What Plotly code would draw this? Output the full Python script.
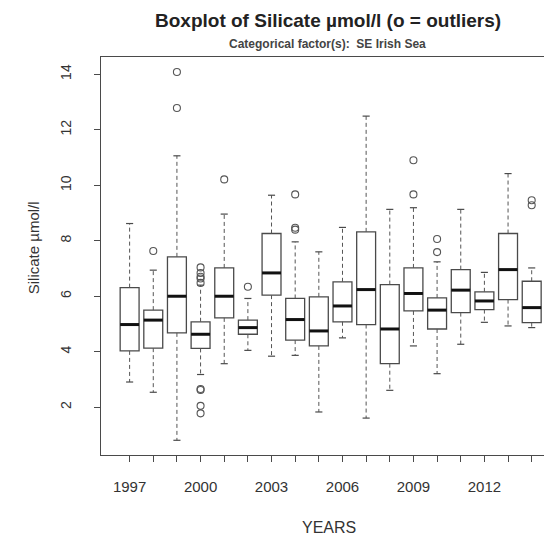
import plotly.graph_objects as go

years = list(range(1997, 2015))
whisker_low = [2.91, 2.54, 0.81, 3.18, 3.57, 4.05, 3.84, 3.87, 1.83, 4.50, 1.61, 2.61, 4.21, 3.21, 4.27, 5.06, 4.93, 4.87]
q1 = [4.03, 4.13, 4.68, 4.12, 5.22, 4.63, 6.04, 4.42, 4.21, 5.08, 4.98, 3.57, 5.47, 4.82, 5.41, 5.52, 5.88, 5.05]
median = [4.98, 5.14, 6.00, 4.63, 6.00, 4.87, 6.84, 5.16, 4.75, 5.65, 6.24, 4.82, 6.10, 5.50, 6.22, 5.83, 6.96, 5.59]
q3 = [6.31, 5.50, 7.42, 5.08, 7.02, 5.14, 8.26, 5.92, 5.98, 6.52, 8.32, 6.42, 7.02, 5.94, 6.96, 6.16, 8.26, 6.54]
whisker_high = [8.62, 6.94, 11.06, 6.40, 8.96, 5.92, 9.64, 7.96, 7.60, 8.48, 12.49, 9.13, 9.19, 7.24, 9.13, 6.86, 10.42, 7.02]

outlier_years = [1998, 1999, 1999, 2000, 2000, 2000, 2000, 2000, 2000, 2000, 2000, 2000,
                 2001, 2002, 2004, 2004, 2004, 2009, 2009, 2010, 2010, 2014, 2014]
outlier_values = [7.63, 12.78, 14.08, 6.48, 6.64, 6.70, 6.84, 7.04, 2.66, 2.62, 2.05, 1.78,
                  10.21, 6.34, 8.40, 8.47, 9.67, 9.67, 10.90, 7.59, 8.06, 9.28, 9.46]

label_years = [1997, 2000, 2003, 2006, 2009, 2012]

pos = {y: i for i, y in enumerate(years)}
xs = [pos[y] for y in years]
BOXW = 0.8
STAPLE = 0.15
LINE = "#4a4a4a"
TEXT = "#333333"
FONT = "Liberation Sans, Arial, sans-serif"

fig = go.Figure()

# dashed whiskers
wx, wy = [], []
for p, lo, a, b, hi in zip(xs, whisker_low, q1, q3, whisker_high):
    wx += [p, p, None, p, p, None]
    wy += [b, hi, None, a, lo, None]
fig.add_trace(go.Scatter(x=wx, y=wy, mode="lines", hoverinfo="skip",
                         line=dict(color="#555555", width=1, dash="4px,3px")))

# staples
sx, sy = [], []
for p, lo, hi in zip(xs, whisker_low, whisker_high):
    sx += [p - STAPLE, p + STAPLE, None, p - STAPLE, p + STAPLE, None]
    sy += [hi, hi, None, lo, lo, None]
fig.add_trace(go.Scatter(x=sx, y=sy, mode="lines", hoverinfo="skip",
                         line=dict(color=LINE, width=1.2)))

# boxes
fig.add_trace(go.Box(x=xs, q1=q1, median=median, q3=q3,
                     lowerfence=q1, upperfence=q3, width=BOXW,
                     line=dict(color=LINE, width=1.3), fillcolor="rgba(255,255,255,0)",
                     whiskerwidth=0, boxpoints=False))

# thick medians
mx, my = [], []
for p, m in zip(xs, median):
    mx += [p - BOXW / 2, p + BOXW / 2, None]
    my += [m, m, None]
fig.add_trace(go.Scatter(x=mx, y=my, mode="lines", hoverinfo="skip",
                         line=dict(color="#111111", width=3)))

# outliers
fig.add_trace(go.Scatter(x=[pos[y] for y in outlier_years], y=outlier_values, mode="markers",
                         marker=dict(symbol="circle-open", size=7, color="#555555",
                                     line=dict(width=1.1, color="#555555"))))

fig.update_layout(
    width=544, height=540,
    margin=dict(l=101, r=0, t=57, b=85),
    paper_bgcolor="white", plot_bgcolor="white",
    showlegend=False,
    font=dict(family=FONT, color=TEXT, size=14),
    xaxis=dict(range=[-1.21, 17.52], tickmode="array", tickvals=xs,
               ticktext=[str(y) if y in label_years else "" for y in years],
               ticks="outside", ticklen=6, tickcolor=LINE, tickwidth=1,
               showline=True, linecolor=LINE, linewidth=1.2, mirror=True,
               showgrid=False, zeroline=False, ticklabelstandoff=12,
               tickfont=dict(size=15, color=TEXT)),
    yaxis=dict(range=[0.28, 14.62], tickmode="array", tickvals=[2, 4, 6, 8, 10, 12, 14],
               tickangle=-90, ticks="outside", ticklen=6, tickcolor=LINE, tickwidth=1,
               showline=True, linecolor=LINE, linewidth=1.2,
               showgrid=False, zeroline=False, ticklabelstandoff=17,
               tickfont=dict(size=14, color=TEXT)),
    annotations=[
        dict(text="<b>Boxplot of Silicate µmol/l (o = outliers)</b>", xref="paper", yref="paper",
             x=0.512, y=1.0905, xanchor="center", yanchor="middle", showarrow=False,
             font=dict(size=19, color="#222222", family=FONT)),
        dict(text="<b>Categorical factor(s):  SE Irish Sea</b>", xref="paper", yref="paper",
             x=0.512, y=1.0327, xanchor="center", yanchor="middle", showarrow=False,
             font=dict(size=12, color="#444444", family=FONT)),
        dict(text="YEARS", xref="paper", yref="paper", x=0.515, y=-0.182,
             xanchor="center", yanchor="middle", showarrow=False,
             font=dict(size=16, color=TEXT, family=FONT)),
        dict(text="Silicate µmol/l", xref="paper", yref="paper", x=-0.1535, y=0.522,
             xanchor="center", yanchor="middle", showarrow=False, textangle=-90,
             font=dict(size=15, color=TEXT, family=FONT)),
    ],
)

fig.write_html("out.html")
